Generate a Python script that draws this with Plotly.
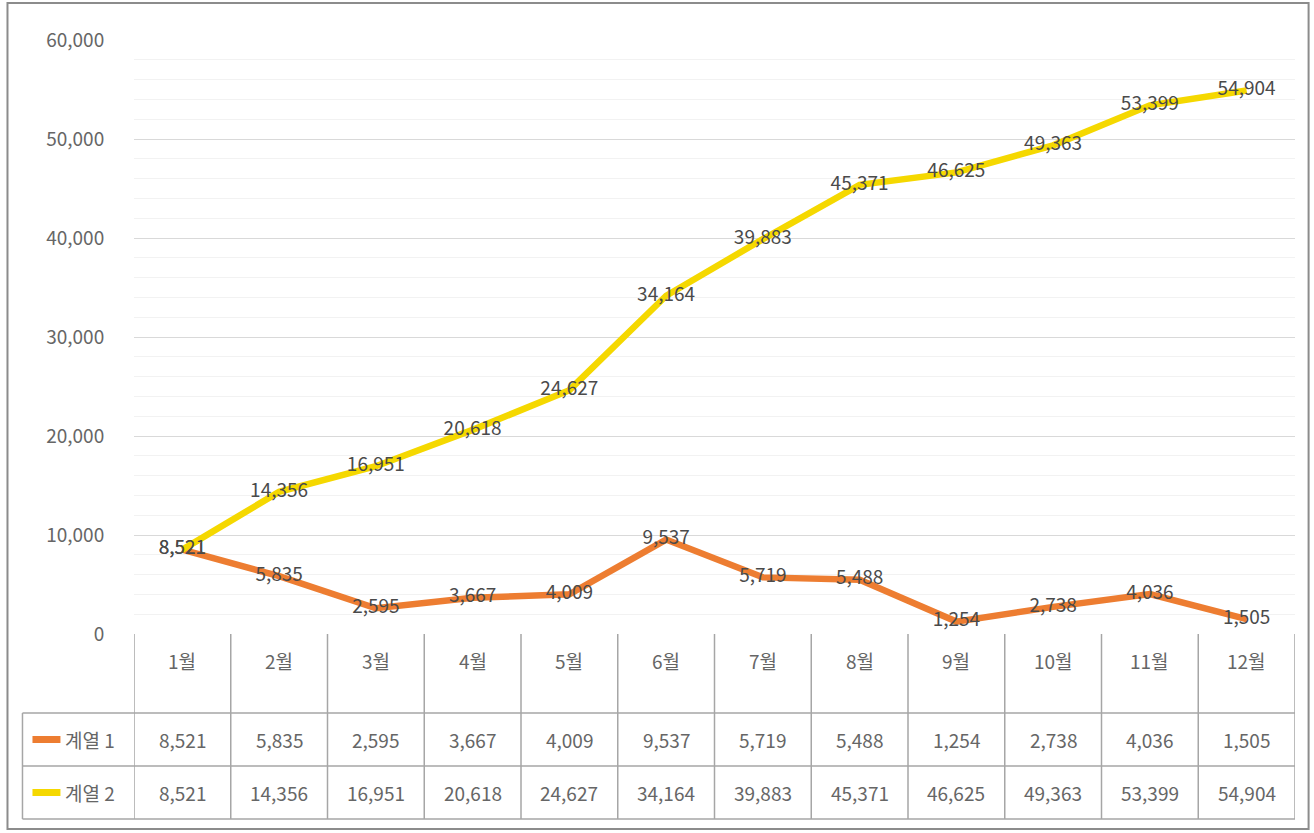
import plotly.graph_objects as go

months = ["1월", "2월", "3월", "4월", "5월", "6월", "7월", "8월", "9월", "10월", "11월", "12월"]
series1_name = "계열 1"
series2_name = "계열 2"
series1 = [8521, 5835, 2595, 3667, 4009, 9537, 5719, 5488, 1254, 2738, 4036, 1505]
series2 = [8521, 14356, 16951, 20618, 24627, 34164, 39883, 45371, 46625, 49363, 53399, 54904]
y_ticks = [0, 10000, 20000, 30000, 40000, 50000, 60000]

W, H = 1314, 833
L, R, T, B = 133.6, 1295.4, 40, 634  # plot area in pixels

ORANGE = "#ED7D31"
YELLOW = "#F5D800"
TXT = "#666666"
LBL = "#4a4a4a"
FONT = "Noto Sans CJK KR"
FS = 19

def px(xp):
    return (xp - L) / (R - L)

def py(yp):
    return (B - yp) / (B - T)

fmt = lambda v: f"{v:,}"

fig = go.Figure()
xs = list(range(len(months)))
for vals, col, name in [(series1, ORANGE, series1_name), (series2, YELLOW, series2_name)]:
    fig.add_trace(go.Scatter(
        x=xs, y=vals, mode="lines+text", name=name,
        line=dict(color=col, width=6.5),
        text=[fmt(v) for v in vals], textposition="middle center",
        textfont=dict(family=FONT, size=FS, color=LBL),
        hoverinfo="skip", showlegend=False, cliponaxis=False,
    ))

shapes = []
# outer border
shapes.append(dict(type="rect", xref="paper", yref="paper",
                   x0=px(7), x1=px(1309), y0=py(3), y1=py(829),
                   line=dict(color="#8c8c8c", width=2), layer="below"))
grid_col = "#a6a6a6"
row_y = [713, 766, 819]
# vertical boundaries
for i in range(len(months) + 1):
    shapes.append(dict(type="line", xref="x", yref="paper",
                       x0=i - 0.5, x1=i - 0.5, y0=py(634), y1=py(819),
                       line=dict(color=grid_col, width=1.5)))
# horizontal rows
for yy in row_y:
    shapes.append(dict(type="line", xref="paper", yref="paper",
                       x0=px(22), x1=1.0, y0=py(yy), y1=py(yy),
                       line=dict(color=grid_col, width=1.5)))
# left vertical of legend column
shapes.append(dict(type="line", xref="paper", yref="paper",
                   x0=px(22), x1=px(22), y0=py(713), y1=py(819),
                   line=dict(color=grid_col, width=1.5)))

annotations = []
# header row: month labels
for i, m in enumerate(months):
    annotations.append(dict(x=i, y=py(660), xref="x", yref="paper", text=m,
                            xanchor="center", yanchor="middle",
                            showarrow=False, font=dict(family=FONT, size=FS, color=TXT)))
# data rows
for vals, yy in [(series1, 739.5), (series2, 792.5)]:
    for i, v in enumerate(vals):
        annotations.append(dict(x=i, y=py(yy), xref="x", yref="paper", text=fmt(v),
                                xanchor="center", yanchor="middle",
                                showarrow=False, font=dict(family=FONT, size=FS, color=TXT)))
# legend keys
for name, col, yy in [(series1_name, ORANGE, 739.5), (series2_name, YELLOW, 792.5)]:
    shapes.append(dict(type="line", xref="paper", yref="paper",
                       x0=px(32), x1=px(60), y0=py(yy), y1=py(yy),
                       line=dict(color=col, width=7)))
    annotations.append(dict(x=px(63), y=py(yy), xref="paper", yref="paper", text=name,
                            xanchor="left", yanchor="middle", showarrow=False,
                            font=dict(family=FONT, size=FS, color=TXT)))

fig.update_layout(
    width=W, height=H,
    margin=dict(l=L, r=W - R, t=T, b=H - B, pad=0),
    paper_bgcolor="white", plot_bgcolor="white",
    xaxis=dict(range=[-0.5, len(months) - 0.5], showticklabels=False, showgrid=False,
               zeroline=False, showline=False, fixedrange=True),
    yaxis=dict(range=[0, 60000], tickvals=y_ticks, ticktext=[fmt(v) for v in y_ticks],
               showgrid=True, gridcolor="#d9d9d9", gridwidth=1, zeroline=False,
               showline=False, ticks="outside", ticklen=25, tickcolor="rgba(0,0,0,0)",
               tickfont=dict(family=FONT, size=FS, color=TXT),
               minor=dict(dtick=2000, showgrid=True, gridcolor="#f2f2f2", gridwidth=1),
               fixedrange=True),
    shapes=shapes, annotations=annotations,
)

fig.write_html("out.html", config={"displayModeBar": False},
               post_script="document.body.style.margin='0';document.body.style.overflow='hidden';")
